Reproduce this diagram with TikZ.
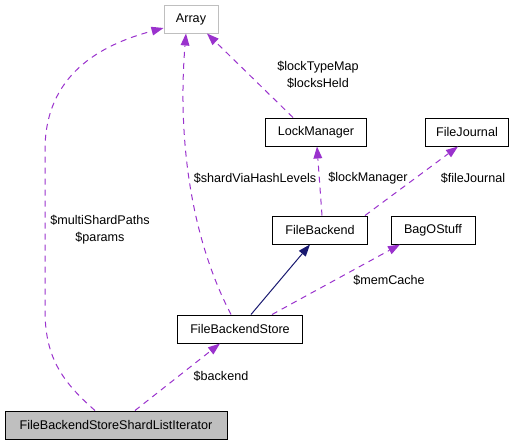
\documentclass[tikz,border=0pt]{standalone}
\usepackage{fontspec}
\setmainfont{Liberation Sans}
\usetikzlibrary{arrows.meta,calc}
\definecolor{edgepurple}{HTML}{9A32CD}
\definecolor{edgenavy}{HTML}{191970}
\definecolor{boxgray}{HTML}{BFBFBF}
\begin{document}
\begin{tikzpicture}[x=1pt,y=-1pt,
  every node/.style={font=\fontsize{12.6}{17}\selectfont},
  cls/.style={draw=black,line width=1pt,minimum height=28pt,inner sep=0pt,anchor=center},
  grayframe/.style={draw=boxgray,line width=1pt,minimum height=28pt,inner sep=0pt},
  member/.style={draw=edgepurple,line width=1pt,dash pattern=on 6pt off 5pt,
    -{Triangle[length=12pt,width=9pt,fill=edgepurple,line width=0pt]}},
  inherit/.style={draw=edgenavy,line width=1pt,
    -{Triangle[length=12pt,width=9pt,fill=edgenavy,line width=0pt]}},
  lbl/.style={align=center,inner sep=0pt}]
\useasboundingbox (0,0) rectangle (517,445);

\node[grayframe,minimum width=54pt] (array) at (191,19) {Array};
\node[cls,minimum width=101pt] (lock) at (316,132) {LockManager};
\node[cls,minimum width=83pt] (journal) at (467,132) {FileJournal};
\node[cls,minimum width=95pt] (fb) at (320,230) {FileBackend};
\node[cls,minimum width=84pt] (bag) at (433,230) {BagOStuff};
\node[cls,minimum width=125pt] (store) at (240,329) {FileBackendStore};
\node[cls,minimum width=222pt,fill=boxgray] (iter) at (116,425) {FileBackendStoreShardListIterator};

% edges
\draw[member] ($(iter.north)+(-21,0)$) .. controls (60,380) and (45,355) .. (45,310)
  -- (45,150) .. controls (45,75) and (100,45) .. ($(array.west)+(0,9)$);
\draw[member] ($(store.north)+(-9,0)$) .. controls (188,232) and (178,130) .. ($(array.south)+(-5,0)$);
\draw[member] ($(lock.north)+(-23,0)$) -- ($(array.south)+(16,0)$);
\draw[member] ($(fb.north)+(2,0)$) -- ($(lock.south)+(1,0)$);
\draw[member] ($(fb.north)+(45,0)$) -- ($(journal.south)+(-9,0)$);
\draw[inherit] ($(store.north)+(11,0)$) -- ($(fb.south)+(-10,0)$);
\draw[member] ($(store.north)+(32,0)$) -- ($(bag.south)+(-33,0)$);
\draw[member] ($(iter.north)+(19,0)$) -- ($(store.south)+(-20,0)$);

% labels
\node[lbl] (l1) at (100,230) {\$multiShardPaths\\\$params};
\node[lbl] (l2) at (255,178) {\$shardViaHashLevels};
\node[lbl] (l3) at (318,75) {\$lockTypeMap\\\$locksHeld};
\node[lbl] (l4) at (368,178) {\$lockManager};
\node[lbl] (l5) at (473,178) {\$fileJournal};
\node[lbl] (l6) at (389,280) {\$memCache};
\node[lbl] (l7) at (221,376) {\$backend};
\end{tikzpicture}
\end{document}
